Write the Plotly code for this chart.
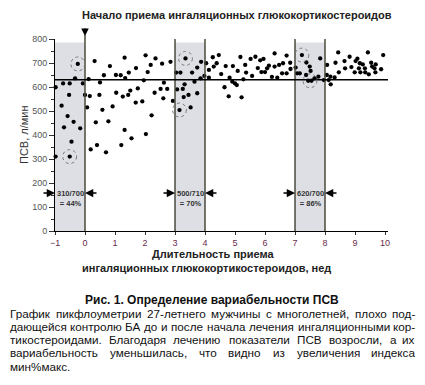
import plotly.graph_objects as go

# ---------------- data ----------------
weeks = [-0.98, -0.98, -0.78, -0.73, -0.70, -0.58, -0.53, -0.51, -0.51, -0.45, -0.38, -0.33, -0.24, -0.16, -0.07,
         0.00, 0.07, 0.12, 0.16, 0.19, 0.32, 0.36, 0.40, 0.48, 0.50, 0.58, 0.63, 0.70, 0.78, 0.83, 0.92,
         1.03, 1.04, 1.19, 1.21, 1.26, 1.32, 1.32, 1.34, 1.44, 1.46, 1.51, 1.55, 1.69, 1.70, 1.76, 1.91, 1.96,
         2.02, 2.03, 2.09, 2.19, 2.22, 2.32, 2.35, 2.52, 2.57, 2.61, 2.63, 2.74, 2.85, 2.93,
         3.04, 3.07, 3.15, 3.18, 3.26, 3.29, 3.32, 3.35, 3.45, 3.52, 3.57, 3.65, 3.74, 3.74, 3.85, 3.87, 3.98,
         4.04, 4.13, 4.13, 4.26, 4.29, 4.39, 4.46, 4.54, 4.65, 4.69, 4.79, 4.82, 4.91, 4.93,
         5.00, 5.06, 5.09, 5.18, 5.22, 5.28, 5.34, 5.37, 5.52, 5.57, 5.68, 5.76, 5.84, 5.88, 5.95,
         6.00, 6.07, 6.13, 6.23, 6.32, 6.32, 6.41, 6.47, 6.57, 6.60, 6.72, 6.72, 6.84, 6.85,
         7.02, 7.07, 7.16, 7.23, 7.37, 7.38, 7.44, 7.49, 7.52, 7.55, 7.65, 7.78, 7.84, 7.96,
         8.06, 8.07, 8.12, 8.18, 8.19, 8.32, 8.35, 8.44, 8.46, 8.65, 8.67, 8.82, 8.88, 8.99,
         9.02, 9.08, 9.13, 9.16, 9.18, 9.26, 9.33, 9.34, 9.43, 9.46, 9.54, 9.57, 9.65, 9.68, 9.69, 9.87, 9.94]
pef = [599, 310, 522, 615, 432, 479, 567, 615, 310, 372, 455, 636, 696, 428, 615,
       567, 515, 633, 562, 340, 708, 453, 358, 567, 619, 505, 649, 328, 457, 687, 519,
       650, 576, 649, 358, 560, 722, 421, 637, 567, 660, 585, 386, 535, 679, 594, 540, 628,
       732, 404, 662, 692, 482, 576, 719, 592, 697, 553, 618, 592, 705, 542,
       660, 590, 504, 660, 592, 558, 611, 719, 567, 515, 660, 622, 681, 574, 636, 705, 646,
       699, 639, 671, 724, 685, 699, 733, 654, 599, 687, 561, 639, 622, 687,
       615, 608, 667, 725, 557, 632, 692, 660, 717, 646, 726, 679, 711, 662, 717,
       662, 678, 689, 642, 740, 685, 639, 692, 657, 699, 731, 657, 701, 675,
       681, 657, 657, 733, 650, 702, 626, 685, 667, 626, 636, 643, 719, 629,
       650, 692, 629, 643, 611, 640, 701, 744, 661, 708, 678, 726, 683, 661,
       708, 718, 678, 699, 661, 694, 678, 661, 744, 653, 701, 685, 678, 661, 694, 674, 733]

reference_level = 630
window_start = [-1, 3, 7]
window_end = [0, 4, 8]
window_labels = ["310/700<br>= 44%", "500/710<br>= 70%", "620/700<br>= 86%"]
extreme_x = [-0.24, -0.51, 3.35, 3.15, 7.23, 7.50]
extreme_y = [696, 310, 719, 504, 733, 626]
xticks = list(range(-1, 11))

title_top = "Начало приема ингаляционных глюкокортикостероидов"
y_title = "ПСВ, л/мин"
x_title_1 = "Длительность приема"
x_title_2 = "ингаляционных глюкокортикостероидов, нед"
caption_title = "Рис. 1. Определение вариабельности ПСВ"
caption_lines = [
    "График пикфлоуметрии 27-летнего мужчины с многолетней, плохо под-",
    "дающейся контролю БА до и после начала лечения ингаляционными кор-",
    "тикостероидами. Благодаря лечению показатели ПСВ возросли, а их",
    "вариабельность уменьшилась, что видно из увеличения индекса",
    "мин%макс.",
]

# ---------------- layout helpers ----------------
# the page body has an 8px default margin, so the figure starts at (8, 8) in the screenshot
OFF = 8
W, H = 425 - OFF, 385 - OFF
PLOT_L, PLOT_R, PLOT_T, PLOT_B = 55, 388, 39, 231     # screenshot pixels of the plot area
L, R, T, B = PLOT_L - OFF, W - (PLOT_R - OFF), PLOT_T - OFF, H - (PLOT_B - OFF)
PW, PH = PLOT_R - PLOT_L, PLOT_B - PLOT_T
FONT = "Liberation Sans, Arial, sans-serif"


def px_x(px):
    return (px - PLOT_L) / PW


def px_y(py):
    return (PLOT_B - py) / PH


def text_ann(text, px, py, size, color="#222", xanchor="center", **kw):
    return dict(text=text, xref="paper", yref="paper", x=px_x(px), y=px_y(py),
                xanchor=xanchor, yanchor="middle", showarrow=False,
                font=dict(size=size, color=color, family=FONT), **kw)


fig = go.Figure()

fig.add_trace(go.Scatter(x=weeks, y=pef, mode="markers",
                         marker=dict(color="black", size=4.3), cliponaxis=False,
                         hoverinfo="skip", showlegend=False))

shapes = []
for a, b in zip(window_start, window_end):
    shapes.append(dict(type="rect", xref="x", yref="y", x0=a, x1=b, y0=0, y1=785,
                       fillcolor="#dddfe5", line=dict(width=0), layer="below"))
for xv in [0] + window_start[1:] + window_end[1:]:
    if xv == 0:
        shapes.append(dict(type="line", xref="x", yref="paper", x0=xv, x1=xv, y0=0, y1=px_y(35),
                           line=dict(color="#4a4a3c", width=1.5), layer="above"))
    else:
        shapes.append(dict(type="line", xref="x", yref="y", x0=xv, x1=xv, y0=0, y1=805,
                           line=dict(color="#4a4a3c", width=1.5), layer="above"))
shapes.append(dict(type="line", xref="x", yref="y", x0=-1, x1=10.1,
                   y0=reference_level, y1=reference_level,
                   line=dict(color="black", width=1.5), layer="above"))
rx, ry = 0.23, 29
for cx, cy in zip(extreme_x, extreme_y):
    shapes.append(dict(type="circle", xref="x", yref="y", x0=cx - rx, x1=cx + rx,
                       y0=cy - ry, y1=cy + ry, line=dict(color="#777", width=1, dash="dot"),
                       layer="above"))

ann = []
ann.append(text_ann("<b>%s</b>" % title_top, 237, 15, 11))
ann.append(dict(x=0, y=px_y(36), xref="x", yref="paper", ax=0, ay=-9, text="", showarrow=True,
                arrowhead=2, arrowsize=1, arrowwidth=1.5, arrowcolor="black"))
ann.append(text_ann(y_title, 24, 135, 11, color="#333", textangle=-90))
ann.append(text_ann("<b>%s</b>" % x_title_1, 213, 254, 11))
ann.append(text_ann("<b>%s</b>" % x_title_2, 206, 268, 11))

for a, b, lab in zip(window_start, window_end, window_labels):
    ann.append(dict(text="<b>%s</b>" % lab, x=(a + b) / 2, y=137, xref="x", yref="y",
                    xanchor="center", yanchor="middle",
                    showarrow=False, font=dict(size=7.5, color="#333", family=FONT)))
    ann.append(dict(x=a, y=158, xref="x", yref="y", ax=-13, ay=0, text="", showarrow=True,
                    arrowhead=2, arrowsize=1.1, arrowwidth=1.5, arrowcolor="black"))
    ann.append(dict(x=b, y=158, xref="x", yref="y", ax=13, ay=0, text="", showarrow=True,
                    arrowhead=2, arrowsize=1.1, arrowwidth=1.5, arrowcolor="black"))

ann.append(text_ann("<b>%s</b>" % caption_title, 212, 300, 12, color="#111"))

# approximate Arial advance widths (per 1000 em) for justification
CW = {' ': 278, ',': 278, '.': 278, '-': 333, '%': 889}
CW.update({d: 556 for d in "0123456789"})
CW.update(dict(zip("абвгдежзийклмнопрстуфхцчшщъыьэюя",
                   [556, 573, 531, 365, 583, 556, 669, 458, 559, 559, 438, 583, 688, 552, 556, 542,
                    556, 500, 458, 500, 823, 500, 573, 521, 802, 823, 625, 719, 521, 510, 750, 542])))
CW.update({'Г': 552, 'Б': 656, 'А': 667, 'П': 722, 'С': 722, 'В': 667, 'Р': 667})
FS = 11.7
LEFT, RIGHT = 9, 416
line_y = [313, 326.3, 339.6, 352.9, 366.2]


def wwidth(w):
    return sum(CW.get(c, 556) for c in w) * FS / 1000.0


for i, (line, py) in enumerate(zip(caption_lines, line_y)):
    words = line.split(" ")
    last = i == len(caption_lines) - 1
    if last or len(words) == 1:
        ann.append(text_ann(line, LEFT - 1, py, FS, color="#111", xanchor="left"))
        continue
    widths = [wwidth(w) for w in words]
    gap = (RIGHT - LEFT - sum(widths)) / (len(words) - 1)
    pos = LEFT
    for j, (w, wd) in enumerate(zip(words, widths)):
        if j == 0:
            x, anc = pos - 1, "left"
        elif j == len(words) - 1:
            x, anc = RIGHT + 1, "right"
        else:
            x, anc = pos + wd / 2, "center"
        ann.append(text_ann(w, x, py, FS, color="#111", xanchor=anc))
        pos += wd + gap

fig.update_layout(
    width=W, height=H, margin=dict(l=L, r=R, t=T, b=B, autoexpand=False),
    paper_bgcolor="white", plot_bgcolor="white",
    font=dict(family=FONT),
    shapes=shapes, annotations=ann,
    xaxis=dict(range=[-1, 10.1], tickvals=xticks, ticks="outside", ticklen=3, tickcolor="#333",
               showline=True, linecolor="black", linewidth=1, showgrid=False, zeroline=False,
               tickfont=dict(size=9, color="#6a2c4c", family=FONT)),
    yaxis=dict(range=[0, 800], dtick=100, ticks="outside", ticklen=5, tickcolor="#333",
               minor=dict(dtick=50, ticks="outside", ticklen=3, tickcolor="#333", showgrid=False),
               showline=True, linecolor="black", linewidth=1, showgrid=False, zeroline=False,
               tickfont=dict(size=9, color="#555", family=FONT)),
)

fig.write_html("out.html")
